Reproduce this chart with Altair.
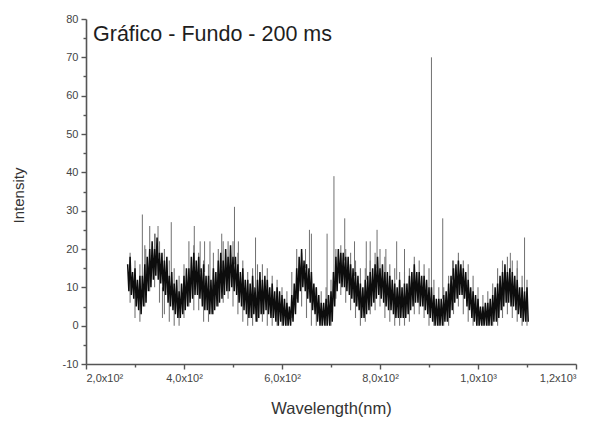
import altair as alt
import numpy as np
import pandas as pd

TITLE = "Gráfico - Fundo - 200 ms"
X_TITLE = "Wavelength(nm)"
Y_TITLE = "Intensity"

x_tick_vals = [200, 400, 600, 800, 1000, 1200]
x_tick_labels = ["2,0x10²", "4,0x10²", "6,0x10²", "8,0x10²", "1,0x10³", "1,2x10³"]
x_minor_vals = [300, 500, 700, 900, 1100]
y_tick_vals = [-10, 0, 10, 20, 30, 40, 50, 60, 70, 80]
y_minor_vals = [-5, 5, 15, 25, 35, 45, 55, 65, 75]

# dense core of the spectrum, upper / lower envelope every 5 nm from 285 to 1100 nm
core_nm = list(range(285, 1101, 5))
core_hi = [16, 18, 14, 15, 12, 13, 13, 16, 18, 20,
           22, 20, 23, 19, 19, 17, 18, 13, 14, 11,
           12, 9, 11, 13, 15, 15, 18, 19, 17, 18,
           15, 16, 13, 13, 12, 15, 14, 17, 19, 17,
           20, 18, 21, 18, 18, 16, 14, 15, 12, 12,
           11, 13, 10, 12, 14, 12, 13, 12, 10, 11,
           9, 10, 9, 8, 7, 6, 5, 8, 11, 15,
           18, 20, 17, 16, 15, 14, 11, 10, 8, 6,
           6, 7, 8, 9, 14, 18, 20, 19, 19, 18,
           18, 16, 15, 14, 13, 11, 10, 12, 13, 14,
           15, 16, 18, 15, 16, 14, 14, 13, 12, 11,
           10, 12, 10, 11, 11, 13, 14, 16, 14, 14,
           13, 13, 12, 10, 10, 8, 7, 7, 7, 8,
           9, 11, 13, 15, 16, 17, 16, 15, 14, 12,
           10, 9, 8, 7, 5, 5, 6, 6, 7, 8,
           10, 11, 13, 14, 16, 14, 15, 14, 13, 12,
           10, 10, 9, 10]
core_lo = [9, 8, 7, 5, 4, 3, 5, 6, 9, 10,
           12, 13, 12, 11, 9, 8, 6, 5, 4, 3,
           2, 2, 3, 4, 5, 6, 7, 8, 8, 7,
           5, 4, 4, 3, 3, 4, 5, 6, 7, 8,
           9, 9, 10, 9, 8, 6, 5, 4, 3, 2,
           2, 3, 1, 2, 3, 3, 4, 3, 2, 2,
           1, 0, 1, 0, 0, 0, 0, 1, 3, 6,
           9, 10, 9, 7, 6, 4, 3, 1, 0, 0,
           0, 0, 0, 1, 5, 9, 11, 10, 10, 9,
           8, 7, 6, 5, 4, 2, 2, 3, 4, 5,
           6, 7, 8, 7, 6, 5, 4, 4, 3, 2,
           2, 2, 2, 2, 3, 4, 5, 6, 6, 5,
           5, 4, 3, 2, 1, 0, 0, 0, 0, 1,
           1, 2, 4, 6, 7, 8, 8, 7, 5, 4,
           2, 1, 0, 0, 0, 0, 0, 0, 0, 1,
           1, 2, 4, 5, 6, 6, 5, 5, 4, 3,
           2, 1, 1, 1]

# lighter outer excursions every 10 nm
outer_nm = list(range(290, 1101, 10))
outer_hi = [19, 17, 16, 21, 26, 24, 22, 20, 17, 15,
            13, 16, 22, 21, 19, 17, 16, 19, 20, 22,
            22, 22, 19, 17, 14, 15, 16, 16, 15, 13,
            12, 10, 9, 14, 20, 19, 16, 13, 10, 9,
            10, 12, 20, 21, 20, 19, 17, 15, 15, 17,
            19, 20, 18, 16, 15, 14, 14, 15, 18, 17,
            16, 15, 12, 10, 10, 13, 17, 19, 17, 16,
            13, 10, 8, 9, 11, 15, 17, 18, 17, 15,
            13, 12]
outer_lo = [6, 2, 1, 5, 9, 10, 6, 3, 1, 0,
            0, 2, 5, 4, 4, 1, 1, 3, 5, 6,
            7, 5, 3, 1, 0, 0, 1, 1, 0, 0,
            0, 0, 0, 2, 7, 5, 2, 0, 0, 0,
            0, 0, 7, 8, 6, 4, 2, 0, 1, 3,
            4, 5, 2, 1, 0, 0, 0, 1, 3, 3,
            2, 0, 0, 0, 0, 0, 3, 5, 3, 1,
            0, 0, 0, 0, 0, 0, 2, 3, 2, 1,
            0, 0]

# isolated spikes
spike_nm = [315, 322, 341, 347, 356, 374, 421, 433, 442, 453, 477, 503, 511, 546,
            648, 656, 660, 692, 706, 728, 748, 772, 780, 794, 812, 834, 850,
            905, 928, 948, 1066, 1080, 1095]
spike_base = [10, 12, 18, 18, 10, 12, 16, 14, 14, 10, 15, 16, 14, 10,
              15, 14, 12, 6, 12, 17, 13, 12, 13, 15, 14, 12, 11,
              8, 7, 12, 14, 12, 9]
spike_top = [29, 20, 24, 26, 2, 27, 26, 22, 22, 22, 24, 31, 22, 23,
             20, 25, 24, 24, 39, 28, 22, 22, 22, 25, 20, 22, 20,
             70, 28, 17, 19, 17, 23]

rows = []
for nm, h, l in zip(core_nm, core_hi, core_lo):
    rows.append({"nm": nm, "v": h})
    rows.append({"nm": nm + 2.5, "v": l})
core_df = pd.DataFrame(rows)
outer_df = pd.DataFrame({"nm": outer_nm, "lo": outer_lo, "hi": outer_hi})
spike_df = pd.DataFrame({"nm": spike_nm, "lo": spike_base, "hi": spike_top})

FONT = "Liberation Sans"
xscale = alt.Scale(domain=[200, 1200], nice=False, zero=False)
yscale = alt.Scale(domain=[-10, 80], nice=False, zero=False)

label_expr = " : ".join(
    f"datum.value == {v} ? '{t}'" for v, t in zip(x_tick_vals, x_tick_labels)
) + " : ''"

axis_common = dict(domainColor="#555", domainWidth=1.6, tickColor="#555", tickWidth=1.4,
                   labelColor="#444", labelFont=FONT, grid=False,
                   titleFont=FONT, titleColor="#333", titleFontWeight="normal")

x_major = alt.Axis(values=x_tick_vals, labelExpr=label_expr, tickSize=5, labelPadding=3,
                   labelFontSize=11, orient="bottom", title=X_TITLE, titleFontSize=16.5,
                   titleX=245, titleY=36, titleBaseline="top", **axis_common)
y_major = alt.Axis(values=y_tick_vals, tickSize=5, labelPadding=3, orient="left",
                   labelFontSize=11, labelExpr="datum.value < 0 ? '-' + abs(datum.value) : datum.value",
                   title=Y_TITLE, titleFontSize=15, titleX=-68, titleY=176, titleAngle=-90,
                   titleBaseline="middle", **axis_common)

x_minor = alt.Axis(values=x_minor_vals, labels=False, tickSize=3, orient="bottom", title=None,
                   domain=False, tickColor="#555", tickWidth=1.4, grid=False)
y_minor = alt.Axis(values=y_minor_vals, labels=False, tickSize=3, orient="left", title=None,
                   domain=False, tickColor="#555", tickWidth=1.4, grid=False)

outer = alt.Chart(outer_df).mark_rule(color="#5e5e5e", strokeWidth=1.1, opacity=0.85).encode(
    x=alt.X("nm:Q", scale=xscale, axis=x_major),
    y=alt.Y("lo:Q", scale=yscale, axis=y_major),
    y2="hi:Q",
)

spikes = alt.Chart(spike_df).mark_rule(color="#707070", strokeWidth=1).encode(
    x=alt.X("nm:Q", scale=xscale, axis=x_minor),
    y=alt.Y("lo:Q", scale=yscale, axis=y_minor),
    y2="hi:Q",
)

core = alt.Chart(core_df).mark_line(color="#0d0d0d", strokeWidth=1.5).encode(
    x=alt.X("nm:Q", scale=xscale, axis=None),
    y=alt.Y("v:Q", scale=yscale, axis=None),
)

title = alt.Chart(pd.DataFrame({"t": [TITLE]})).mark_text(
    align="left", baseline="middle", font=FONT, fontSize=21.5, color="#1e1e1e"
).encode(x=alt.value(7), y=alt.value(16), text="t:N")

chart = alt.layer(outer, spikes, core, title).resolve_axis(
    x="independent", y="independent"
).properties(
    width=490, height=345,
    autosize=alt.AutoSizeParams(type="none"),
    padding={"left": 86, "top": 19, "right": 36, "bottom": 75},
).configure_view(stroke=None)

chart.save("out.html", embed_options={"renderer": "svg", "actions": False})
